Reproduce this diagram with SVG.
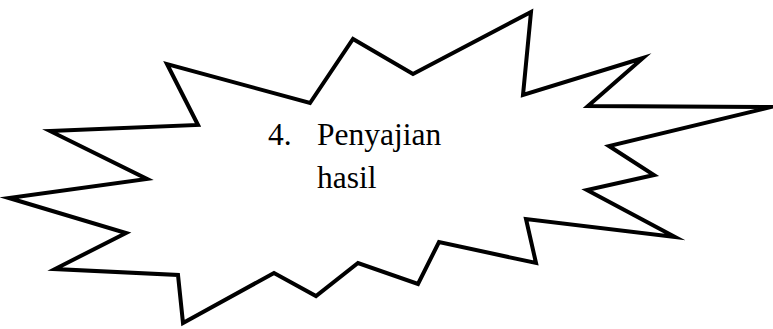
<svg xmlns="http://www.w3.org/2000/svg" width="773" height="329" viewBox="0 0 773 329">
<style>
.shape{fill:#ffffff;stroke:#000000;stroke-width:4;stroke-linejoin:miter;stroke-miterlimit:10}
.t{font-family:"Liberation Serif","Times New Roman",serif;font-size:31.5px;fill:#000000}
</style>
<rect width="773" height="329" fill="#ffffff"/>
<g id="explosion">
<polygon class="shape" points="50,131 198,125 167,64 310,103 353,39 413,74 531,12 523,95 643,58 588,106 771,107 609,146 654,175 587,190 675,237 526,219 536,263 439,242 418,284 358,263 316,296 274,273 183,323 178,275 55,269 126,233 9,198 147,179"/>
<text class="t" x="268" y="145">4.</text>
<text class="t" x="317" y="145">Penyajian</text>
<text class="t" x="317" y="188">hasil</text>
</g>
<g id="connectors"></g>
</svg>
